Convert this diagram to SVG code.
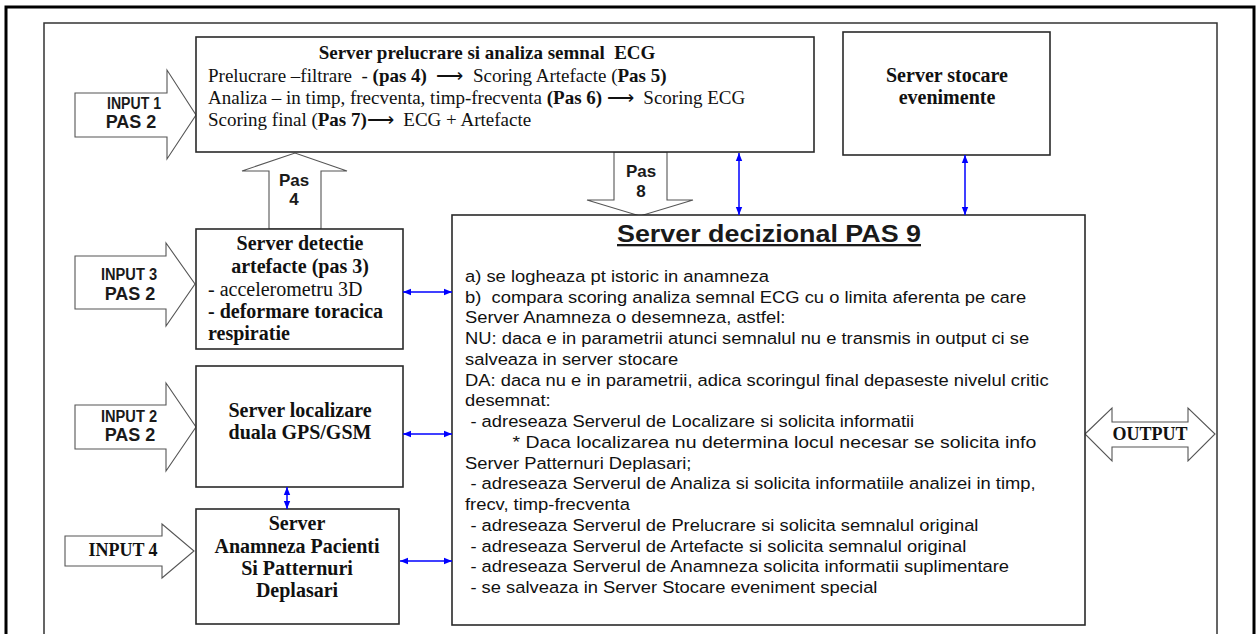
<svg xmlns="http://www.w3.org/2000/svg" width="1259" height="634" viewBox="0 0 1259 634">
<style>
.box{fill:#fff;stroke:#2a2a2a;stroke-width:1.6}
.hollow{fill:#fff;stroke:#555;stroke-width:1.1}
.ser{font-family:"Liberation Serif","Times New Roman",serif;font-size:19px;fill:#111}
.serb{font-family:"Liberation Serif","Times New Roman",serif;font-size:20px;font-weight:bold;fill:#111}
.serr{font-family:"Liberation Serif","Times New Roman",serif;font-size:20px;fill:#111}
.sanb{font-family:"Liberation Sans",Arial,sans-serif;font-weight:bold;fill:#1a1a1a}
.body{font-family:"Liberation Sans",Arial,sans-serif;font-size:17px;fill:#111}
.blue{stroke:#0000ff;stroke-width:1.5;fill:none;marker-start:url(#bh);marker-end:url(#bh)}
.b{font-weight:bold}
</style>
<defs>
<marker id="bh" viewBox="0 0 10 10" refX="10" refY="5" markerWidth="8" markerHeight="8" markerUnits="userSpaceOnUse" orient="auto-start-reverse">
<path d="M0,1 L10,5 L0,9 z" fill="#0000ff"/>
</marker>
</defs>
<rect width="1259" height="634" fill="#fff"/>
<rect x="6" y="7" width="1248" height="640" fill="none" stroke="#000" stroke-width="3"/>
<rect x="44" y="23" width="1173" height="620" fill="none" stroke="#333" stroke-width="1.5"/>

<g id="input1">
<polygon class="hollow" points="75,93 167,93 167,70 196,115 167,159 167,137 75,137"/>
<text class="sanb" x="134" y="109" style="font-size:16px" text-anchor="middle" textLength="54" lengthAdjust="spacingAndGlyphs">INPUT 1</text>
<text class="sanb" x="131" y="128" style="font-size:18px" text-anchor="middle">PAS 2</text>
</g>
<g id="input3">
<polygon class="hollow" points="75,256 166,256 166,243 195,284 166,326 166,309 75,309"/>
<text class="sanb" x="129" y="280" style="font-size:16px" text-anchor="middle" textLength="56" lengthAdjust="spacingAndGlyphs">INPUT 3</text>
<text class="sanb" x="130" y="300" style="font-size:18px" text-anchor="middle">PAS 2</text>
</g>
<g id="input2">
<polygon class="hollow" points="75,405 166,405 166,383 196,427 166,471 166,449 75,449"/>
<text class="sanb" x="129" y="422" style="font-size:16px" text-anchor="middle" textLength="56" lengthAdjust="spacingAndGlyphs">INPUT 2</text>
<text class="sanb" x="130" y="441" style="font-size:18px" text-anchor="middle">PAS 2</text>
</g>
<g id="input4">
<polygon class="hollow" points="65,536 162,536 162,524 194,551 162,578 162,566 65,566"/>
<text class="serb" x="123" y="556" style="font-size:18px" text-anchor="middle">INPUT 4</text>
</g>

<g id="pas4">
<polygon class="hollow" points="269,229 269,171 242,171 295,153 347,171 321,171 321,229"/>
<text class="sanb" x="294" y="186" style="font-size:17px" text-anchor="middle">Pas</text>
<text class="sanb" x="294" y="205" style="font-size:17px" text-anchor="middle">4</text>
</g>
<g id="pas8">
<polygon class="hollow" points="614,152 614,200 587,200 640,216 693,200 667,200 667,152"/>
<text class="sanb" x="641" y="177" style="font-size:17px" text-anchor="middle">Pas</text>
<text class="sanb" x="641" y="197" style="font-size:17px" text-anchor="middle">8</text>
</g>
<g id="output">
<polygon class="hollow" points="1085,434 1112,408 1112,422 1188,422 1188,408 1215,434 1188,461 1188,447 1112,447 1112,461"/>
<text class="serb" x="1150" y="440" style="font-size:18px" text-anchor="middle">OUTPUT</text>
</g>

<g id="server-prelucrare">
<rect class="box" x="196" y="37" width="618" height="115"/>
<text class="serb" x="487" y="59" style="font-size:19px" text-anchor="middle" xml:space="preserve">Server prelucrare si analiza semnal  ECG</text>
<text class="ser" x="208" y="82" xml:space="preserve">Prelucrare –filtrare  - <tspan class="b">(pas 4)</tspan>  ⟶  Scoring Artefacte (<tspan class="b">Pas 5)</tspan></text>
<text class="ser" x="208" y="104" xml:space="preserve">Analiza – in timp, frecventa, timp-frecventa <tspan class="b">(Pas 6)</tspan> ⟶  Scoring ECG</text>
<text class="ser" x="208" y="126" xml:space="preserve">Scoring final (<tspan class="b">Pas 7)</tspan>⟶  ECG + Artefacte</text>
</g>

<g id="server-stocare">
<rect class="box" x="843" y="32" width="207" height="123"/>
<text class="serb" x="947" y="82" text-anchor="middle">Server stocare</text>
<text class="serb" x="947" y="104" text-anchor="middle">evenimente</text>
</g>

<g id="server-detectie">
<rect class="box" x="196" y="229" width="207" height="120"/>
<text class="serb" x="300" y="250" text-anchor="middle">Server detectie</text>
<text class="serb" x="300" y="273" text-anchor="middle">artefacte (pas 3)</text>
<text class="serr" x="208" y="296">- accelerometru 3D</text>
<text class="serb" x="208" y="318">- deformare toracica</text>
<text class="serb" x="208" y="340">respiratie</text>
</g>

<g id="server-localizare">
<rect class="box" x="196" y="366" width="207" height="121"/>
<text class="serb" x="300" y="417" text-anchor="middle">Server localizare</text>
<text class="serb" x="300" y="439" text-anchor="middle">duala GPS/GSM</text>
</g>

<g id="server-anamneza">
<rect class="box" x="196" y="509" width="203" height="115"/>
<text class="serb" x="297" y="530" text-anchor="middle">Server</text>
<text class="serb" x="297" y="553" text-anchor="middle">Anamneza Pacienti</text>
<text class="serb" x="297" y="575" text-anchor="middle">Si Patternuri</text>
<text class="serb" x="297" y="597" text-anchor="middle">Deplasari</text>
</g>

<g id="server-decizional">
<rect class="box" x="452" y="215" width="633" height="410"/>
<text class="sanb" x="769" y="242" style="font-size:23px" text-anchor="middle" textLength="304" lengthAdjust="spacingAndGlyphs" text-decoration="underline" fill="#000">Server decizional PAS 9</text>
<g transform="translate(465,0) scale(1.08,1)">
<text class="body" x="0" y="282">a) se logheaza pt istoric in anamneza</text>
<text class="body" x="0" y="302.75" xml:space="preserve">b)  compara scoring analiza semnal ECG cu o limita aferenta pe care</text>
<text class="body" x="0" y="323.5">Server Anamneza o desemneza, astfel:</text>
<text class="body" x="0" y="344.25">NU: daca e in parametrii atunci semnalul nu e transmis in output ci se</text>
<text class="body" x="0" y="365">salveaza in server stocare</text>
<text class="body" x="0" y="385.75">DA: daca nu e in parametrii, adica scoringul final depaseste nivelul critic</text>
<text class="body" x="0" y="406.5">desemnat:</text>
<text class="body" x="5" y="427.25">- adreseaza Serverul de Localizare si solicita informatii</text>
<text class="body" x="44" y="448" textLength="485" lengthAdjust="spacingAndGlyphs">* Daca localizarea nu determina locul necesar se solicita info</text>
<text class="body" x="0" y="468.75">Server Patternuri Deplasari;</text>
<text class="body" x="5" y="489.5">- adreseaza Serverul de Analiza si solicita informatiile analizei in timp,</text>
<text class="body" x="0" y="510.25">frecv, timp-frecventa</text>
<text class="body" x="5" y="531">- adreseaza Serverul de Prelucrare si solicita semnalul original</text>
<text class="body" x="5" y="551.75">- adreseaza Serverul de Artefacte si solicita semnalul original</text>
<text class="body" x="5" y="572.5">- adreseaza Serverul de Anamneza solicita informatii suplimentare</text>
<text class="body" x="5" y="593.25">- se salveaza in Server Stocare eveniment special</text>
</g>
</g>

<g id="connectors">
<line class="blue" x1="739" y1="153" x2="739" y2="215"/>
<line class="blue" x1="965" y1="155" x2="965" y2="215"/>
<line class="blue" x1="403" y1="292" x2="452" y2="292"/>
<line class="blue" x1="403" y1="434" x2="452" y2="434"/>
<line class="blue" x1="400" y1="561" x2="452" y2="561"/>
<line class="blue" x1="287" y1="487" x2="287" y2="509"/>
</g>
</svg>
